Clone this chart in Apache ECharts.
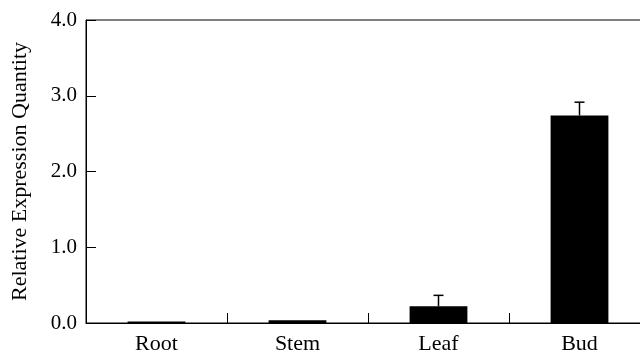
<!DOCTYPE html>
<html>
<head>
<meta charset="utf-8">
<script src="https://cdn.jsdelivr.net/npm/echarts@6/dist/echarts.min.js"></script>
<style>
  html, body { margin: 0; padding: 0; background: #fff; overflow: hidden; }
  /* a little wider than the window: the right edge of the frame is cut off in the original */
  #chart { width: 650px; height: 356px; }
</style>
</head>
<body>
<div id="chart"></div>
<script>
// tissues on the x axis
const tissues = ["Root", "Stem", "Leaf", "Bud"];
// mean relative expression
const means = [0.02, 0.035, 0.22, 2.74];
// upper error (SD), drawn above the bar only
const errors = [0, 0, 0.145, 0.175];
const yTicks = ["0.0", "1.0", "2.0", "3.0", "4.0"];

const font = "Liberation Serif";
const chart = echarts.init(document.getElementById("chart"));

const option = {
  animation: false,
  grid: {
    left: 86,
    top: 20,
    right: 0,
    bottom: 33,
    show: true,
    borderColor: "#000",
    borderWidth: 1,
  },
  xAxis: {
    type: "category",
    data: tissues,
    boundaryGap: true,
    axisLine: { show: true, lineStyle: { color: "#000", width: 1 } },
    axisTick: { show: true, inside: true, length: 10, alignWithLabel: false, lineStyle: { color: "#000", width: 1 } },
    axisLabel: { color: "#000", fontFamily: font, fontSize: 22, margin: 10 },
    splitLine: { show: false },
  },
  yAxis: {
    type: "value",
    min: 0,
    max: 4,
    interval: 1,
    name: "Relative Expression Quantity",
    nameLocation: "middle",
    nameGap: 55,
    nameTextStyle: { color: "#000", fontFamily: font, fontSize: 22 },
    axisLine: { show: true, lineStyle: { color: "#000", width: 1 } },
    axisTick: { show: true, inside: true, length: 10, lineStyle: { color: "#000", width: 1 } },
    axisLabel: {
      color: "#000",
      fontFamily: font,
      fontSize: 21,
      margin: 9,
      formatter: (v) => yTicks[Math.round(v)],
    },
    splitLine: { show: false },
  },
  series: [
    {
      type: "bar",
      data: means,
      barWidth: "41%",
      itemStyle: { color: "#000" },
    },
    {
      // error bars
      type: "custom",
      data: means.map((m, i) => [i, m, m + errors[i]]),
      renderItem: function (params, api) {
        if (api.value(2) <= api.value(1)) return null;
        const lo = api.coord([api.value(0), api.value(1)]);
        const hi = api.coord([api.value(0), api.value(2)]);
        const half = 5;
        const style = { stroke: "#000", lineWidth: 1.5 };
        return {
          type: "group",
          children: [
            { type: "line", shape: { x1: lo[0], y1: lo[1], x2: hi[0], y2: hi[1] }, style },
            { type: "line", shape: { x1: hi[0] - half, y1: hi[1], x2: hi[0] + half, y2: hi[1] }, style },
          ],
        };
      },
      z: 3,
    },
  ],
};

chart.setOption(option);
</script>
</body>
</html>
